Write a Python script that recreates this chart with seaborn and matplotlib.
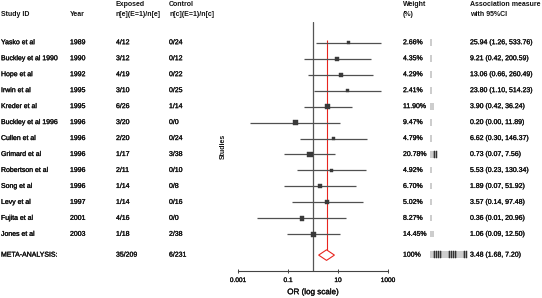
import numpy as np
import pandas as pd
import matplotlib
matplotlib.use("Agg")
import matplotlib.pyplot as plt
import matplotlib.transforms as mtransforms
import matplotlib.patheffects as pe
from matplotlib.patches import Polygon
import seaborn as sns

# ---------------- data ----------------
studies = ["Yasko et al", "Buckley et al 1990", "Hope et al", "Irwin et al",
           "Kreder et al", "Buckley et al 1996", "Cullen et al", "Grimard et al",
           "Robertson et al", "Song et al", "Levy et al", "Fujita et al", "Jones et al"]
years = ["1989", "1990", "1992", "1995", "1995", "1996", "1996", "1996",
         "1996", "1996", "1997", "2001", "2003"]
exposed = ["4/12", "3/12", "4/19", "3/10", "6/26", "3/20", "2/20", "1/17",
           "2/11", "1/14", "1/14", "4/16", "1/18"]
control = ["0/24", "0/12", "0/22", "0/25", "1/14", "0/0", "0/24", "3/38",
           "0/10", "0/8", "0/16", "0/0", "2/38"]
weights = [2.66, 4.35, 4.29, 2.41, 11.90, 9.47, 4.79, 20.78, 4.92, 6.70, 5.02, 8.27, 14.45]
odds = [25.94, 9.21, 13.06, 23.80, 3.90, 0.20, 6.62, 0.73, 5.53, 1.89, 3.57, 0.36, 1.06]
ci_low = [1.26, 0.42, 0.66, 1.10, 0.42, 0.003, 0.30, 0.07, 0.23, 0.07, 0.14, 0.006, 0.09]
ci_high = [533.76, 200.59, 260.49, 514.23, 36.24, 11.89, 146.37, 7.56, 130.34,
           51.92, 97.48, 20.96, 12.50]

meta_label = "META-ANALYSIS:"
meta_exposed = "35/209"
meta_control = "6/231"
meta_weight = 100
meta_or = 3.48
meta_low = 1.68
meta_high = 7.20

xticks = [0.001, 0.1, 10, 1000]
xtick_labels = ["0.001", "0.1", "10", "1000"]

headers = {
    "study": ["Study ID"],
    "year": ["Year"],
    "exposed": ["Exposed", "n[e](E=1)/n[e]"],
    "control": ["Control", "n[c](E=1)/n[c]"],
    "weight": ["Weight", "(%)"],
    "assoc": ["Association measure", "with 95%CI"],
}

# ---------------- style ----------------
sns.set_theme(style="white")
plt.rcParams["font.family"] = ["Liberation Sans", "DejaVu Sans"]

W, H = 542, 298
fig = plt.figure(figsize=(W / 100, H / 100), dpi=100)

ax_left, ax_right = 238, 388
ax_top, ax_bot = 22, 270.7
ax = fig.add_axes([ax_left / W, 1 - ax_bot / H, (ax_right - ax_left) / W, (ax_bot - ax_top) / H])

row_px0, row_step = 42.7, 15.97
ylim_top = -(row_px0 - ax_top) / row_step
ylim_bot = (ax_bot - row_px0) / row_step
meta_row = 13.3

df = pd.DataFrame({"study": studies, "or": odds, "lo": ci_low, "hi": ci_high,
                   "w": weights, "row": np.arange(len(studies))})

ci_color = "#505050"
ax.axvline(1, color="#555555", lw=0.9, zorder=1)
ax.vlines(meta_or, -0.2, meta_row - 0.33, color="#e8251f", lw=0.8, zorder=2)
ax.hlines(df["row"], df["lo"], df["hi"], color=ci_color, lw=0.9, zorder=3)
sns.scatterplot(data=df, x="or", y="row", size="w", sizes=(6, 18), marker="s",
                color="#3a3a3a", edgecolor="#3a3a3a", linewidth=0.3,
                legend=False, ax=ax, zorder=4)
dh = 0.33
diamond = Polygon([[meta_low, meta_row], [meta_or, meta_row - dh],
                   [meta_high, meta_row], [meta_or, meta_row + dh]],
                  closed=True, facecolor="white", edgecolor="#e8251f", lw=0.8, zorder=5)
ax.add_patch(diamond)

ax.set_xscale("log")
ax.set_xlim(0.001, 1000)
ax.set_ylim(ylim_bot, ylim_top)
ax.set_xticks(xticks)
ax.set_xticklabels(xtick_labels)
ax.minorticks_off()
ax.set_yticks([])
ax.set_xlabel("")
ax.set_ylabel("")
for s in ["top", "right", "left"]:
    ax.spines[s].set_visible(False)
ax.spines["bottom"].set_color("#444444")
ax.spines["bottom"].set_linewidth(0.8)
ax.tick_params(axis="x", direction="inout", length=3.5, width=0.7, color="#444444",
               labelsize=4.7, pad=2.8, bottom=True, labelcolor="#111111")
for lab in ax.get_xticklabels():
    lab.set_path_effects([pe.withStroke(linewidth=0.2, foreground="#111111")])
ax.set_facecolor("none")

thick = [pe.withStroke(linewidth=0.2, foreground="#111111")]
fig.text(313 / W, 1 - 292.7 / H, "OR (log scale)", ha="center", va="center",
         fontsize=5.8, color="#111111", path_effects=thick)
fig.text(223 / W, 1 - 146 / H, "Studies", ha="center", va="center", rotation=90,
         fontsize=5.0, fontweight="bold", color="#111111")

# ---------------- text table ----------------
trans = mtransforms.blended_transform_factory(fig.transFigure, ax.transData)
fs = 5.0
tc = "#111111"
bar_fx = [pe.withStroke(linewidth=0.35, foreground="#333333")]

def put(xpx, row, s, bold=False, size=fs, color=tc, effects="text"):
    if bold:
        fx = None
    elif effects == "bars":
        fx = bar_fx
    else:
        fx = thick
    ax.text(xpx / W, row, s, transform=trans, ha="left", va="center",
            fontsize=size, fontweight="bold" if bold else "normal",
            color=color, clip_on=False, path_effects=fx)

col_x = {"study": 1, "year": 70, "exposed": 116, "control": 169,
         "weight": 403, "bars": 430, "assoc": 470}

r_h1 = (5 - row_px0) / row_step
r_h2 = (14.5 - row_px0) / row_step
for key, lines in headers.items():
    if len(lines) == 1:
        put(col_x[key], r_h2, lines[0], bold=True)
    else:
        put(col_x[key], r_h1, lines[0], bold=True)
        put(col_x[key], r_h2, lines[1], bold=True)

bar_color = "#333333"
for i in range(len(studies)):
    put(col_x["study"], i, studies[i])
    put(col_x["year"], i, years[i])
    put(col_x["exposed"], i, exposed[i])
    put(col_x["control"], i, control[i])
    put(col_x["weight"], i, f"{weights[i]:.2f}%")
    put(col_x["bars"], i, "|" * max(1, int(weights[i] // 5)), size=5.2,
        color=bar_color, effects="bars")
    put(col_x["assoc"], i, f"{odds[i]:.2f} ({ci_low[i]:.2f}, {ci_high[i]:.2f})")

put(col_x["study"], meta_row, meta_label)
put(col_x["exposed"], meta_row, meta_exposed)
put(col_x["control"], meta_row, meta_control)
put(col_x["weight"], meta_row, f"{meta_weight}%")
put(col_x["bars"], meta_row, "|" * int(meta_weight // 5), size=5.2,
    color=bar_color, effects="bars")
put(col_x["assoc"], meta_row, f"{meta_or:.2f} ({meta_low:.2f}, {meta_high:.2f})")

fig.savefig("out.png", dpi=100)
